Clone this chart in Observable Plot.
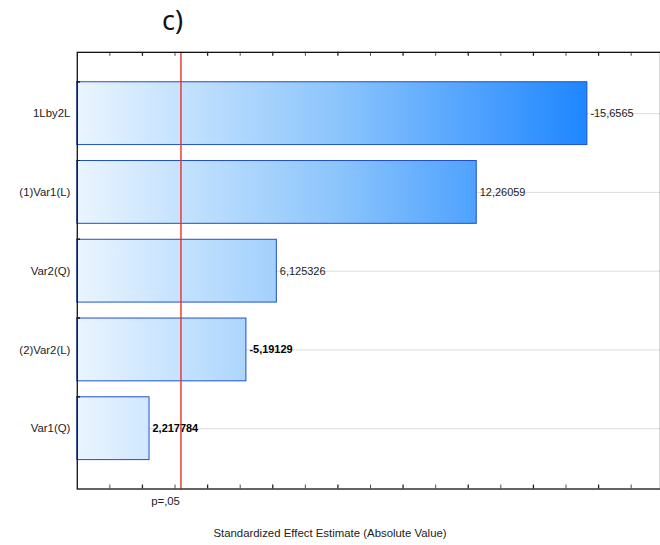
<!DOCTYPE html>
<html>
<head>
<meta charset="utf-8">
<script src="https://cdn.jsdelivr.net/npm/d3@7"></script>
<script src="https://cdn.jsdelivr.net/npm/@observablehq/plot@0.6"></script>
<style>
  html, body { margin: 0; padding: 0; background: #fff; overflow: hidden; }
  #wrap { position: relative; width: 660px; height: 545px; }
  #title { position: absolute; left: 162px; top: 2px; font-family: "Noto Sans", "Open Sans", sans-serif; font-size: 27px; color: #111; line-height: 36px; }
  #xlabel { position: absolute; left: 0; top: 526px; width: 660px; text-align: center; font-family: "Liberation Sans", Arial, sans-serif; font-size: 11.4px; line-height: 14px; color: #222; }
  #chart { position: absolute; left: 0; top: 0; }
</style>
</head>
<body>
<div id="wrap">
  <div id="chart"></div>
  <div id="title">c)</div>
  <div id="xlabel">Standardized Effect Estimate (Absolute Value)</div>
</div>
<script>
const categories = ["1Lby2L", "(1)Var1(L)", "Var2(Q)", "(2)Var2(L)", "Var1(Q)"];
const effects = [-15.6565, 12.26059, 6.125326, -5.19129, 2.217784];
const pCritical = 3.182;
const pLabel = "p=,05";
const xTicks = d3.range(1, 18);
const xMax = 17.9;

const data = categories.map((term, i) => ({
  term,
  effect: effects[i],
  abs: Math.abs(effects[i]),
  label: String(effects[i]).replace(".", ","),
  i
}));

const yTickOffsets = [];
categories.forEach((c, i) => {
  [0, 20, 40].forEach(o => yTickOffsets.push({term: c, o}));
  if (i === 0) yTickOffsets.push({term: c, o: -40});
});

const chart = Plot.plot({
  width: 662,
  height: 545,
  marginLeft: 77,
  marginRight: 0,
  marginTop: 52,
  marginBottom: 55,
  style: {fontFamily: "'Liberation Sans', Arial, sans-serif", fontSize: "11px", background: "transparent"},
  x: {domain: [0, xMax], axis: null},
  y: {type: "band", domain: categories, range: [73, 470.5], paddingInner: 0.2, paddingOuter: 0.1, axis: null, label: null},
  marks: [
    Plot.ruleY(data, {y: "term", x1: 0, x2: xMax, stroke: "#dcdcdc", strokeWidth: 1}),
    Plot.barX(data, {x: "abs", y: "term", fill: "url(#bargrad)", stroke: "#1f4fcc", strokeWidth: 1}),
    Plot.text(data, {filter: d => d.i < 3, x: "abs", y: "term", text: "label", textAnchor: "start", dx: 3, fill: "#222", fontSize: 11}),
    Plot.text(data, {filter: d => d.i >= 3, x: "abs", y: "term", text: "label", textAnchor: "start", dx: 3, fill: "#000", fontWeight: "bold", fontSize: 11}),
    Plot.ruleX([pCritical], {stroke: "#e8302a", strokeWidth: 1.4}),
    Plot.frame({stroke: "#111", strokeWidth: 1.3}),
    Plot.ruleX(xTicks, {x: d => d, insetTop: 434, stroke: "#222", strokeWidth: d => d % 2 === 0 ? 1.3 : 0.8}),
    Plot.ruleX(xTicks, {x: d => d, insetBottom: 434, stroke: "#222", strokeWidth: d => d % 2 === 0 ? 1.3 : 0.8}),
    Plot.ruleY(yTickOffsets, {y: "term", dy: d => d.o, x1: 0, x2: 0.1, stroke: "#222"}),
    Plot.axisY({tickSize: 0, tickPadding: 7, fontSize: 11.4, fill: "#222", label: null}),
    Plot.text([pCritical], {x: d => d, text: () => pLabel, frameAnchor: "bottom", dy: 16, dx: -1, textAnchor: "end", fill: "#222", fontSize: 11.4})
  ]
});

// gradient across the plot, tied to the x scale
const xs = chart.scale("x");
const ns = "http://www.w3.org/2000/svg";
const defs = document.createElementNS(ns, "defs");
const grad = document.createElementNS(ns, "linearGradient");
grad.setAttribute("id", "bargrad");
grad.setAttribute("gradientUnits", "userSpaceOnUse");
grad.setAttribute("x1", xs.apply(0));
grad.setAttribute("x2", xs.apply(d3.max(data, d => d.abs)));
grad.setAttribute("y1", 0);
grad.setAttribute("y2", 0);
[["0", "#eaf5ff"], ["0.5", "#8ec6fc"], ["1", "#1e86ff"]].forEach(([o, c]) => {
  const s = document.createElementNS(ns, "stop");
  s.setAttribute("offset", o);
  s.setAttribute("stop-color", c);
  grad.appendChild(s);
});
defs.appendChild(grad);
chart.insertBefore(defs, chart.firstChild);

document.getElementById("chart").appendChild(chart);
</script>
</body>
</html>
